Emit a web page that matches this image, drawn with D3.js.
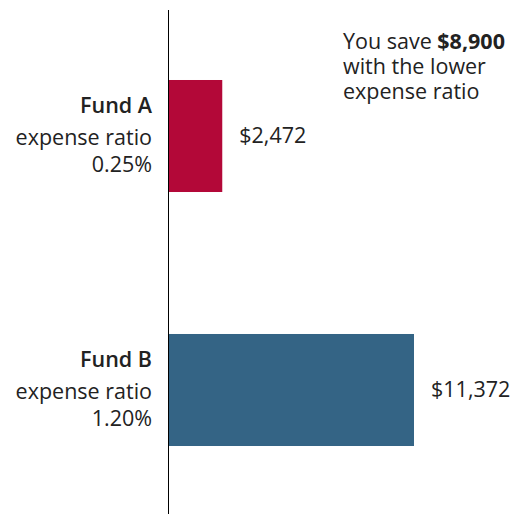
<!DOCTYPE html>
<html>
<head>
<meta charset="utf-8">
<script src="https://cdn.jsdelivr.net/npm/d3@7"></script>
<style>
  body { margin: 0; background: #fff; }
  text { font-family: "Open Sans", "Liberation Sans", sans-serif; fill: #222; }
</style>
</head>
<body>
<script>
// data
var funds = ["Fund A", "Fund B"];
var ratios = ["0.25%", "1.20%"];
var costs = [2472, 11372];
var savings = 8900;

var width = 520;
var height = 514;

var svg = d3.select("body").append("svg").attr("width", width).attr("height", height);

// Scales
var x = d3.scaleLinear()
            .domain([0, d3.max(costs)])
            .range([169, 414]);

// band 112, step 254
var y = d3.scaleBand()
            .domain(funds)
            .range([3.8, 522.2])
            .paddingInner(0.559)
            .paddingOuter(0.3);

var colors = ["#b30838", "#346485"];
var fmt = d3.format("$,");

// bars
svg.selectAll("rect.bar").data(costs).enter().append("rect")
    .attr("class", "bar")
    .attr("x", x(0))
    .attr("y", function(d, i){ return y(funds[i]); })
    .attr("width", function(d){ return x(d) - x(0); })
    .attr("height", y.bandwidth())
    .attr("fill", function(d, i){ return colors[i]; });

// axis line
svg.append("line")
    .attr("x1", 168.5).attr("x2", 168.5)
    .attr("y1", 10).attr("y2", 514)
    .attr("stroke", "#000").attr("stroke-width", 1);

// value labels
svg.selectAll("text.val").data(costs).enter().append("text")
    .attr("class", "val")
    .attr("x", function(d){ return x(d) + 17; })
    .attr("y", function(d, i){ return y(funds[i]) + y.bandwidth() / 2 + 7; })
    .style("font-size", "21.5px")
    .text(function(d){ return fmt(d); });

// category labels
var lab = svg.selectAll("text.cat").data(funds).enter().append("text")
    .attr("class", "cat")
    .attr("text-anchor", "end")
    .style("font-size", "21.5px")
    .attr("transform", function(d){ return "translate(152," + (y(d) + y.bandwidth() / 2) + ")"; });
lab.append("tspan").attr("x", 0).attr("y", -23).style("font-weight", 600).text(function(d){ return d; });
lab.append("tspan").attr("x", 0).attr("y", 9).text("expense ratio");
lab.append("tspan").attr("x", 0).attr("y", 36).text(function(d, i){ return ratios[i]; });

// annotation
var note = svg.append("text").attr("x", 343).attr("y", 49).style("font-size", "21.5px");
note.append("tspan").text("You save ");
note.append("tspan").style("font-weight", 700).text(fmt(savings));
note.append("tspan").attr("x", 343).attr("dy", 25).text("with the lower");
note.append("tspan").attr("x", 343).attr("dy", 25).text("expense ratio");
</script>
</body>
</html>
